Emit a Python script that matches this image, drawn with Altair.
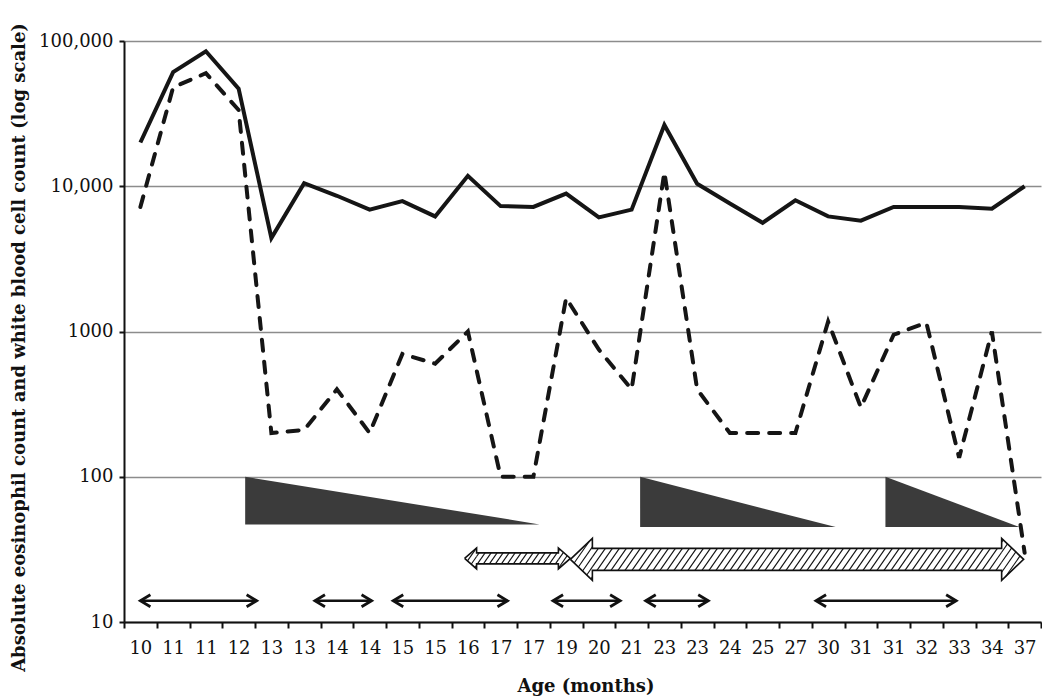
import math
import json
import altair as alt
import pandas as pd

# ---------------- data ----------------
labels = ["10", "11", "11", "12", "13", "13", "14", "14", "15", "15", "16", "17", "17", "19",
          "20", "21", "23", "23", "24", "25", "27", "30", "31", "31", "32", "33", "34", "37"]
wbc = [20000, 61000, 85000, 47000, 4400, 10500, 8600, 6900, 7900, 6200, 11800, 7300, 7200, 8900,
       6100, 6900, 26400, 10400, 7600, 5600, 8000, 6200, 5800, 7200, 7200, 7200, 7000, 10000]
aec = [7200, 48000, 60000, 33500, 200, 210, 400, 200, 700, 600, 1000, 100, 100, 1700,
       750, 400, 12500, 400, 200, 200, 200, 1170, 300, 950, 1150, 135, 1000, 30]

# tapering treatment wedges (position in category units, top / bottom values)
tri_start = [3.2, 15.26, 22.75]
tri_end = [12.19, 21.23, 26.85]
tri_top = [100, 100, 100]
tri_bottom = [47, 45, 45]

# hatched double arrows
hatch_start = [9.9, 13.13]
hatch_end = [13.13, 26.97]
hatch_level = [27.4, 27.0]

# thin double arrows
thin_start = [0.0, 5.33, 7.72, 12.60, 15.43, 20.63]
thin_end = [3.55, 7.06, 11.21, 14.65, 17.34, 24.91]
thin_level = [14, 14, 14, 14, 14, 14]

# ---------------- geometry helpers ----------------
W, H = 917, 581
LEFT, TOP, BOTTOM = 116, 33, 76
N = len(labels)
X_DOM = [-0.5, N - 0.5]
Y_DOM = [10, 100000]
LY0, LY1 = math.log10(Y_DOM[0]), math.log10(Y_DOM[1])


def px_x(v):
    return (v - X_DOM[0]) / (X_DOM[1] - X_DOM[0]) * W


def px_y(v):
    return (LY1 - math.log10(v)) / (LY1 - LY0) * H


def dx(p):
    return X_DOM[0] + p / W * (X_DOM[1] - X_DOM[0])


def dy(p):
    return 10 ** (LY1 - p / H * (LY1 - LY0))


# arrow styles in pixels: shaft half height, head half height, head length, hatch spacing
arrow_style = [(5.5, 10.5, 12, 6), (11, 21, 22, 7)]
K = 0.7  # hatch slope


def clip(poly, c, yc, tmax):
    cx = sum(p[0] for p in poly) / len(poly)
    cy = sum(p[1] for p in poly) / len(poly)
    lo, hi = -tmax, tmax
    n = len(poly)
    for i in range(n):
        ax, ay = poly[i]
        bx, by = poly[(i + 1) % n]
        ex, ey = bx - ax, by - ay

        def f(px, py):
            return ex * (py - ay) - ey * (px - ax)
        s = 1 if f(cx, cy) > 0 else -1
        f0 = f(c, yc)
        f1 = -ex - ey * K
        a0, a1 = s * f0, s * f1
        if abs(a1) < 1e-12:
            if a0 < 0:
                return None
            continue
        tt = -a0 / a1
        if a1 > 0:
            lo = max(lo, tt)
        else:
            hi = min(hi, tt)
        if lo >= hi:
            return None
    return lo, hi


outline_rows, hatch_rows = [], []
for a, (s0, e0, lv) in enumerate(zip(hatch_start, hatch_end, hatch_level)):
    sh, hh, hl, sp = arrow_style[a]
    xl, xr, yc = px_x(s0), px_x(e0), px_y(lv)
    pts = [(xl, yc), (xl + hl, yc - hh), (xl + hl, yc - sh), (xr - hl, yc - sh), (xr - hl, yc - hh),
           (xr, yc), (xr - hl, yc + hh), (xr - hl, yc + sh), (xl + hl, yc + sh), (xl + hl, yc + hh), (xl, yc)]
    for o, (px, py) in enumerate(pts):
        outline_rows.append({"arrow": a, "o": o, "x": dx(px), "y": dy(py)})
    pieces = [
        [(xl, yc), (xl + hl, yc - hh), (xl + hl, yc + hh)],
        [(xl + hl, yc - sh), (xr - hl, yc - sh), (xr - hl, yc + sh), (xl + hl, yc + sh)],
        [(xr, yc), (xr - hl, yc + hh), (xr - hl, yc - hh)],
    ]
    c = xl - K * hh - sp
    while c < xr + K * hh + sp:
        for piece in pieces:
            r = clip(piece, c, yc, hh + 1)
            if r is None:
                continue
            t0, t1 = r
            hatch_rows.append({"x": dx(c + K * t0), "y": dy(yc - t0),
                               "x2": dx(c + K * t1), "y2": dy(yc - t1)})
        c += sp

df = pd.DataFrame({"idx": list(range(N)), "label": labels, "wbc": wbc, "aec": aec})

tri_rows = []
for t, (s0, e0, tp, bt) in enumerate(zip(tri_start, tri_end, tri_top, tri_bottom)):
    tri_rows.append({"tri": t, "x": s0, "y": tp, "y2": bt})
    tri_rows.append({"tri": t, "x": e0, "y": bt, "y2": bt})
tri_df = pd.DataFrame(tri_rows)

thin_df = pd.DataFrame({"x": thin_start, "x2": thin_end, "y": thin_level})
LEFT_CHEV = "M1.67,-1L0,0L1.67,1"
RIGHT_CHEV = "M-1.67,-1L0,0L-1.67,1"
chev_df = pd.DataFrame({
    "x": thin_start + thin_end,
    "y": thin_level + thin_level,
    "shape": [LEFT_CHEV] * len(thin_start) + [RIGHT_CHEV] * len(thin_end),
})

# ---------------- axes ----------------
SERIF = "DejaVu Serif"
TITLE_FONT = "DejaVu Serif"
Y_TITLE = "Absolute eosinophil count and white blood cell count (log scale)"
X_TITLE = "Age (months)"

label_expr_x = json.dumps(labels) + "[round(datum.value + 0.5)] || ''"
x_axis = alt.Axis(
    values=[v - 0.5 for v in range(N + 1)],
    labelExpr=label_expr_x,
    labelOffset=W / N / 2,
    labelFlush=False,
    labelOverlap=False,
    labelFont=SERIF, labelFontSize=18, labelColor="#111", labelPadding=11,
    grid=False,
    domainColor="#111", domainWidth=2,
    tickColor="#111", tickWidth=2, tickSize=6,
    title=X_TITLE,
    titleFont=TITLE_FONT, titleFontSize=18, titleFontWeight="bold", titleColor="#111",
    titleX=W / 2 + 3, titleY=69, titleBaseline="alphabetic",
)
y_axis = alt.Axis(
    values=[10, 100, 1000, 10000, 100000],
    labelExpr="datum.value >= 10000 ? format(datum.value, ',') : format(datum.value, 'd')",
    labelFont=SERIF, labelFontSize=18, labelColor="#111", labelPadding=6,
    grid=True, gridColor="#8c8c8c", gridWidth=1.6,
    domainColor="#111", domainWidth=2,
    tickColor="#111", tickWidth=2, tickSize=5,
    title=Y_TITLE,
    titleFont=TITLE_FONT, titleFontSize=18, titleFontWeight="bold", titleColor="#111",
    titleX=24 - 8 - LEFT, titleY=306, titleAngle=-90, titleAlign="center",
    titleBaseline="alphabetic",
)
xs = alt.Scale(domain=X_DOM, nice=False, zero=False)
ys = alt.Scale(type="log", domain=Y_DOM, nice=False)


def X(f):
    return alt.X(f, type="quantitative", scale=xs, axis=x_axis, title=X_TITLE)


def Y(f):
    return alt.Y(f, type="quantitative", scale=ys, axis=y_axis, title=Y_TITLE)


# ---------------- layers ----------------
wedges = alt.Chart(tri_df).mark_area(color="#3b3b3b", opacity=1, interpolate="linear").encode(
    x=X("x"), y=Y("y"), y2="y2", detail="tri:N")

arrow_fill = alt.Chart(pd.DataFrame(outline_rows)).mark_line(
    fill="white", stroke="#111", strokeWidth=1.6, strokeJoin="miter").encode(
    x=X("x"), y=Y("y"), detail="arrow:N", order="o:Q")

hatch = alt.Chart(pd.DataFrame(hatch_rows)).mark_rule(color="#111", strokeWidth=1.1).encode(
    x=X("x"), y=Y("y"), x2="x2", y2="y2")

thin = alt.Chart(thin_df).mark_rule(color="#111", strokeWidth=2.6).encode(
    x=X("x"), x2="x2", y=Y("y"))

chev = alt.Chart(chev_df).mark_point(filled=False, stroke="#111", strokeWidth=2.8, size=144,
                                     opacity=1).encode(
    x=X("x"), y=Y("y"), shape=alt.Shape("shape:N", scale=None))

wbc_line = alt.Chart(df).mark_line(color="#151515", strokeWidth=4).encode(
    x=X("idx"), y=Y("wbc"))

aec_line = alt.Chart(df).mark_line(color="#151515", strokeWidth=4, strokeDash=[11, 11],
                                   strokeCap="round").encode(
    x=X("idx"), y=Y("aec"))

chart = alt.layer(wedges, arrow_fill, hatch, thin, chev, wbc_line, aec_line).properties(
    width=W, height=H,
    autosize=alt.AutoSizeParams(type="none"),
    padding={"left": LEFT, "top": TOP, "right": 1, "bottom": BOTTOM},
    background="white",
).configure_view(stroke=None)

chart.save("out.html", embed_options={"renderer": "svg", "actions": False})
